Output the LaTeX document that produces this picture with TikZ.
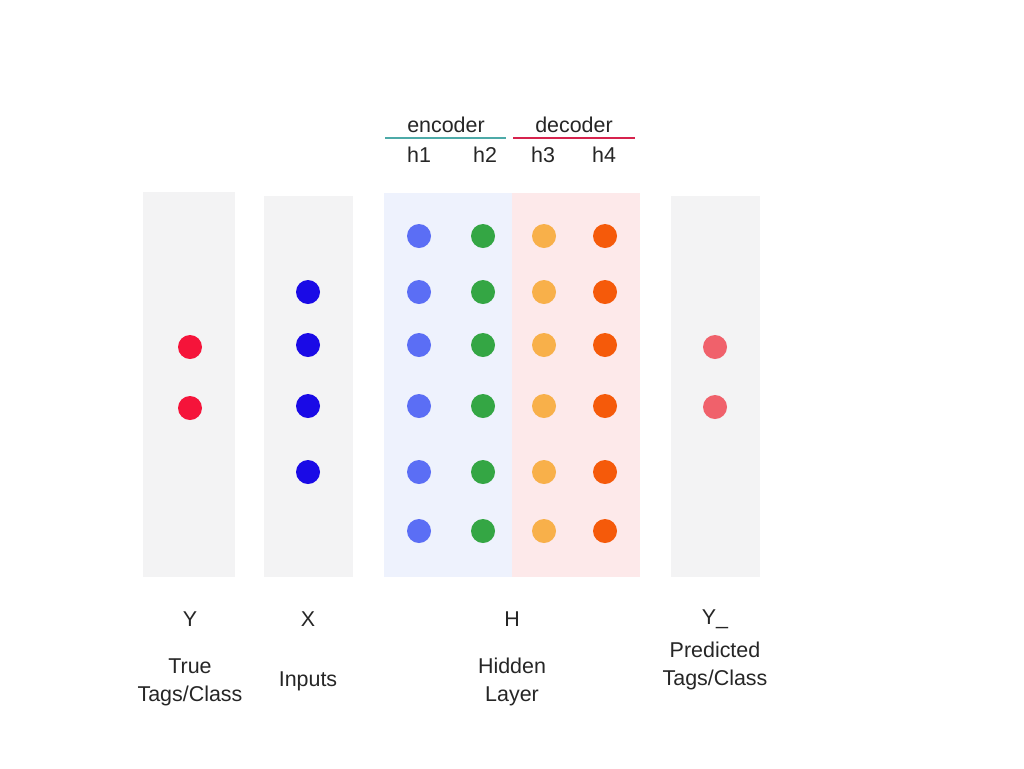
\documentclass[tikz,border=0pt]{standalone}
\usepackage{fontspec}
\setmainfont{Liberation Sans}
\begin{document}
\begin{tikzpicture}[x=0.02cm,y=-0.02cm,
  lbl/.style={font=\fontsize{12.2}{14}\selectfont, text=black!85, inner sep=0pt, anchor=center},
  col/.style={fill=#1, draw=none}]
\useasboundingbox (0,0) rectangle (1024,768);
\fill[white] (0,0) rectangle (1024,768);
\definecolor{colgray}{RGB}{243,243,244}
\definecolor{colblue}{RGB}{238,242,253}
\definecolor{colpink}{RGB}{253,233,234}
% columns
\fill[col=colgray] (143,192) rectangle (235,577);
\fill[col=colgray] (264,196) rectangle (353,577);
\fill[col=colblue] (384,193) rectangle (512,577);
\fill[col=colpink] (512,193) rectangle (640,577);
\fill[col=colgray] (671,196) rectangle (760,577);
% header
\node[lbl] (enc) at (446,125) {encoder};
\node[lbl] (dec) at (574,125) {decoder};
\draw[line width=1.6pt, color={rgb,255:red,77;green,170;blue,168}] (385,138) -- (506,138);
\draw[line width=1.6pt, color={rgb,255:red,214;green,35;blue,77}] (513,138) -- (635,138);
\node[lbl] (h1) at (419,155) {h1};
\node[lbl] (h2) at (485,155) {h2};
\node[lbl] (h3) at (543,155) {h3};
\node[lbl] (h4) at (604,155) {h4};
% dots
\definecolor{ytrue}{RGB}{245,20,58}
\definecolor{xin}{RGB}{26,10,230}
\definecolor{hA}{RGB}{91,110,245}
\definecolor{hB}{RGB}{52,166,68}
\definecolor{hC}{RGB}{248,176,74}
\definecolor{hD}{RGB}{245,90,10}
\definecolor{ypred}{RGB}{240,97,107}
\foreach \y in {347,408} {\fill[ytrue] (190,\y) circle (12);}
\foreach \y in {292,345,406,472} {\fill[xin] (308,\y) circle (12);}
\foreach \y in {236,292,345,406,472,531} {
  \fill[hA] (419,\y) circle (12);
  \fill[hB] (483,\y) circle (12);
  \fill[hC] (544,\y) circle (12);
  \fill[hD] (605,\y) circle (12);
}
\foreach \y in {347,407} {\fill[ypred] (715,\y) circle (12);}
% bottom labels
\node[lbl] (Y) at (190,619) {Y};
\node[lbl] (X) at (308,619) {X};
\node[lbl] (H) at (512,619) {H};
\node[lbl] (Yp) at (715,619) {Y\_};
\node[lbl] (t1) at (190,666) {True};
\node[lbl] (t2) at (190,696) {Tags/Class};
\node[lbl] (in) at (308,681) {Inputs};
\node[lbl] (hl1) at (512,666) {Hidden};
\node[lbl] (hl2) at (512,696) {Layer};
\node[lbl] (p1) at (715,650) {Predicted};
\node[lbl] (p2) at (715,680) {Tags/Class};
\end{tikzpicture}
\end{document}
